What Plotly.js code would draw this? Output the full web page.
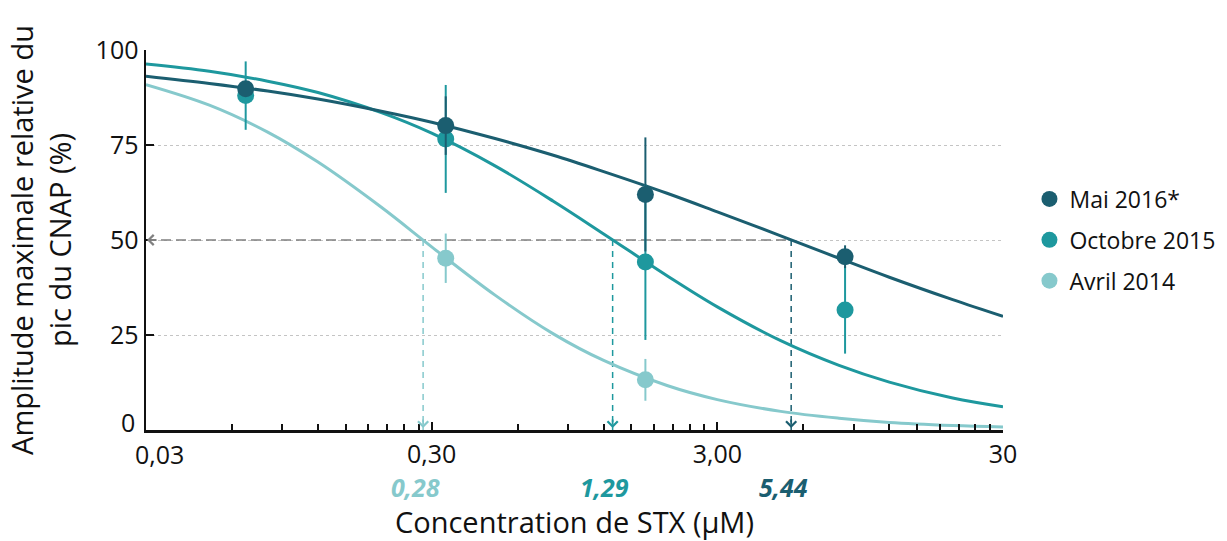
<!DOCTYPE html>
<html><head><meta charset="utf-8">
<script src="https://cdn.plot.ly/plotly-3.0.1.min.js"></script>
<style>html,body{margin:0;padding:0;background:#fff}</style>
</head><body><div id="chart" style="width:1227px;height:541px"></div>
<script>
// ---- data ----
const seriesNames = ['Mai 2016*', 'Octobre 2015', 'Avril 2014'];
const seriesColors = ['#1b5e70', '#1e989e', '#86c9cc'];

const doseX = [0.067, 0.336, 1.68, 8.4];
const maiY = [89.8, 80.1, 62.0, 45.6];
const maiErr = [2, 7.7, 15, 3];
const octY = [88.0, 76.6, 44.2, 31.6];
const octErr = [9, 14.2, 20.5, 11.5];
const avrX = [0.336, 1.68];
const avrY = [45.2, 13.2];
const avrErr = [6.5, 5.5];

const curveX = [0.03, 0.05, 0.08, 0.12, 0.2, 0.3, 0.5, 0.8, 1.2, 2, 3, 5, 8, 12, 20, 30];
const maiCurve = [93.1, 91.2, 89.2, 87.1, 83.9, 81.0, 76.7, 72.3, 68.0, 62.3, 57.4, 51.1, 45.2, 40.2, 34.3, 29.9];
const octCurve = [96.3, 94.4, 91.8, 88.8, 83.5, 78.1, 69.5, 60.2, 51.6, 40.6, 32.4, 23.5, 17.0, 12.6, 8.4, 6.1];
const avrCurve = [90.9, 85.5, 78.4, 70.5, 58.6, 48.2, 35.5, 25.3, 18.3, 11.7, 8.0, 4.9, 3.1, 2.0, 1.2, 0.8];

const ic50 = [5.44, 1.29, 0.28];
const ic50Labels = ['5,44', '1,29', '0,28'];
const halfLevel = 50;
const xStart = 0.03;

const xMajorTicks = [0.03, 0.3, 3, 30];
const xMajorLabels = ['', '0,30', '3,00', '30'];
const xFirstLabel = '0,03';
const xMinorTicks = [0.06, 0.09, 0.12, 0.15, 0.18, 0.21, 0.24, 0.27,
                     0.6, 0.9, 1.2, 1.5, 1.8, 2.1, 2.4, 2.7,
                     6, 9, 12, 15, 18, 21, 24, 27];
const yTicks = [0, 25, 50, 75, 100];
const yTickLabels = ['', '25', '50', '75', '100'];
const yFirstLabel = '0';

// ---- traces ----
const FONT = 'Open Sans, Noto Sans, sans-serif';
const grey = '#808080';
const ink = '#111';
const traces = [];

// horizontal dashed line at 50 %
traces.push({x: [xStart, ic50[0]], y: [halfLevel, halfLevel], mode: 'lines', showlegend: false,
  hoverinfo: 'skip', line: {color: grey, width: 1.5, dash: '10px,5px'}});
// vertical dashed lines
ic50.forEach((v, i) => {
  traces.push({x: [v, v], y: [halfLevel, 0], mode: 'lines', showlegend: false, hoverinfo: 'skip',
    line: {color: seriesColors[i], width: 1.5, dash: '6px,5px'}});
});

const curves = [maiCurve, octCurve, avrCurve];
[2, 1, 0].forEach(i => {
  traces.push({x: curveX, y: curves[i], mode: 'lines', showlegend: false, hoverinfo: 'skip',
    line: {color: seriesColors[i], width: 3, shape: 'spline', smoothing: 1}});
});

const pts = [
  {x: doseX, y: maiY, e: maiErr},
  {x: doseX, y: octY, e: octErr},
  {x: avrX, y: avrY, e: avrErr}
];
[2, 1, 0].forEach(i => {
  traces.push({x: pts[i].x, y: pts[i].y, mode: 'markers', name: seriesNames[i],
    legendrank: i + 1, legendgroup: 'g' + i, cliponaxis: false,
    marker: {color: seriesColors[i], size: 17},
    error_y: {type: 'data', array: pts[i].e, visible: true, color: seriesColors[i], thickness: 2, width: 0}});
});

// ---- annotations ----
const annotations = [];
annotations.push({x: Math.log10(xStart), y: halfLevel, xref: 'x', yref: 'y', ax: 12, ay: 0,
  text: '', showarrow: true, arrowhead: 4, arrowsize: 1.1, arrowwidth: 1.8, arrowcolor: grey, standoff: 1});
ic50.forEach((v, i) => {
  annotations.push({x: Math.log10(v), y: 0, xref: 'x', yref: 'y', ax: 0, ay: -12,
    text: '', showarrow: true, arrowhead: 4, arrowsize: 1.1, arrowwidth: 1.8,
    arrowcolor: seriesColors[i], standoff: 2});
  annotations.push({x: Math.log10(v), y: -0.149, xref: 'x', yref: 'paper', xshift: -8,
    text: '<b><i>' + ic50Labels[i] + '</i></b>', showarrow: false, yanchor: 'middle',
    font: {family: FONT, size: 25, color: seriesColors[i]}});
});
// first tick labels, nudged as in the reference
annotations.push({x: Math.log10(xStart), y: -0.062, xref: 'x', yref: 'paper', xshift: 13,
  text: xFirstLabel, showarrow: false, xanchor: 'center', yanchor: 'middle',
  font: {family: FONT, size: 25, color: ink}});
annotations.push({x: -0.011, y: 2.2, xref: 'paper', yref: 'y',
  text: yFirstLabel, showarrow: false, xanchor: 'right', yanchor: 'middle',
  font: {family: FONT, size: 25, color: ink}});

const layout = {
  width: 1227, height: 541,
  margin: {l: 146, r: 224, t: 50, b: 111},
  paper_bgcolor: '#fff', plot_bgcolor: '#fff',
  font: {family: FONT, color: ink},
  showlegend: true,
  legend: {xref: 'container', yref: 'container', x: 0.839, xanchor: 'left', y: 0.672, yanchor: 'top',
    font: {family: FONT, size: 23, color: ink}, tracegroupgap: 8, bgcolor: 'rgba(0,0,0,0)'},
  xaxis: {type: 'log', range: [Math.log10(0.03), Math.log10(30)],
    tickmode: 'array', tickvals: xMajorTicks, ticktext: xMajorLabels,
    ticks: 'inside', ticklen: 8, tickwidth: 2, tickcolor: ink,
    minor: {tickmode: 'array', tickvals: xMinorTicks, ticks: 'inside', ticklen: 6, tickwidth: 2, tickcolor: ink, showgrid: false},
    showline: true, linecolor: ink, linewidth: 2.5, showgrid: false, zeroline: false,
    tickfont: {family: FONT, size: 25, color: ink},
    title: {text: 'Concentration de STX (µM)', font: {family: FONT, size: 29, color: ink}, standoff: 51},
    automargin: false},
  yaxis: {range: [0, 100], tickmode: 'array', tickvals: yTicks, ticktext: yTickLabels,
    ticks: 'inside', ticklen: 8, tickwidth: 2, tickcolor: ink,
    showline: true, linecolor: ink, linewidth: 2.5, zeroline: false,
    showgrid: true, gridcolor: '#c4c4c4', gridwidth: 1, griddash: 'dot',
    tickfont: {family: FONT, size: 25, color: ink},
    title: {text: 'Amplitude maximale relative du<br>pic du CNAP (%)', font: {family: FONT, size: 29, color: ink}, standoff: 16},
    automargin: false},
  annotations: annotations
};

Plotly.newPlot('chart', traces, layout, {displayModeBar: false, staticPlot: true});
</script>
</body></html>
